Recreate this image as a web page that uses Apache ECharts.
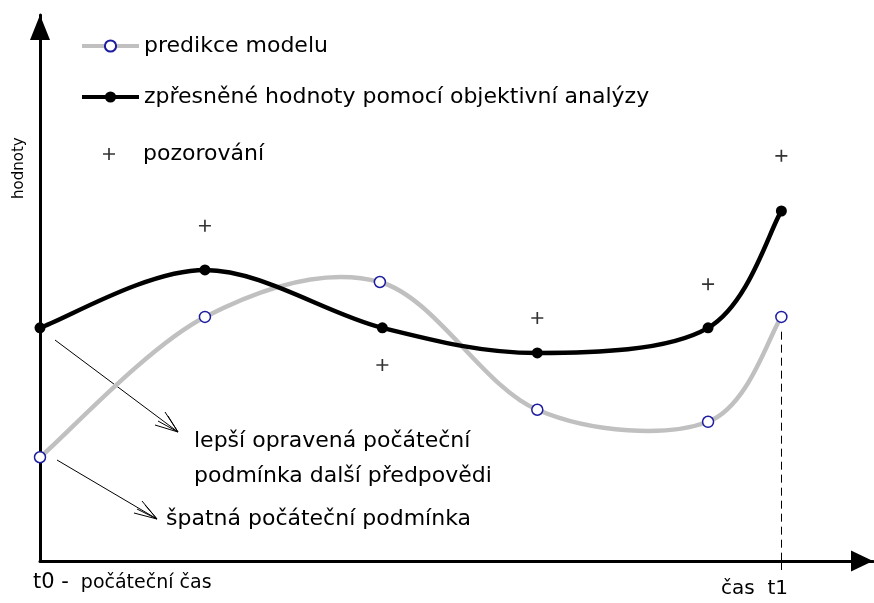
<!DOCTYPE html>
<html>
<head>
    <meta charset="UTF-8">
    <title>predikce a analýza</title>
    <script src="https://cdn.jsdelivr.net/npm/echarts@6/dist/echarts.min.js"></script>
    <style>
        body { margin: 0; padding: 0; background: #fff; }
        #main { width: 874px; height: 603px; }
    </style>
</head>
<body>
<div id="main"></div>
<script>
    // čas (arbitrary units, t0 = 0, t1 ~ 89)
    var casPredikce = [0, 19.8, 40.8, 59.7, 80.2, 89.0];
    var predikce = [19.0, 44.7, 51.1, 27.7, 25.5, 44.7];
    var casAnalyza = [0, 19.8, 41.1, 59.7, 80.2, 89.0];
    var analyza = [42.7, 53.3, 42.7, 38.1, 42.7, 64.1];
    var casPozorovani = [19.8, 41.1, 59.7, 80.2, 89.0];
    var pozorovani = [61.4, 35.9, 44.5, 50.7, 74.2];
    var t1 = 89.0;

    var FONT = '"DejaVu Sans", sans-serif';
    var plus = 'path://M4.3,0H5.7V4.3H10V5.7H5.7V10H4.3V5.7H0V4.3H4.3Z';

    function pairs(xs, ys) {
        return xs.map(function (x, i) { return [x, ys[i]]; });
    }

    // cardinal spline through the points, one bezier segment per item
    function splineItem(xs, ys, color, width) {
        return function (params, api) {
            var i = params.dataIndex;
            if (i >= xs.length - 1) return null;
            var n = xs.length;
            var p = function (k) {
                k = Math.max(0, Math.min(n - 1, k));
                return api.coord([xs[k], ys[k]]);
            };
            var p0 = p(i - 1), p1 = p(i), p2 = p(i + 1), p3 = p(i + 2);
            return {
                type: 'bezierCurve',
                shape: {
                    x1: p1[0], y1: p1[1], x2: p2[0], y2: p2[1],
                    cpx1: p1[0] + (p2[0] - p0[0]) / 6, cpy1: p1[1] + (p2[1] - p0[1]) / 6,
                    cpx2: p2[0] - (p3[0] - p1[0]) / 6, cpy2: p2[1] - (p3[1] - p1[1]) / 6
                },
                style: {stroke: color, lineWidth: width, fill: null, lineCap: 'round'}
            };
        };
    }

    var chart = echarts.init(document.getElementById('main'), null, {renderer: 'canvas'});

    var legendBase = {
        orient: 'vertical',
        left: 75,
        itemWidth: 57,
        itemHeight: 14,
        selectedMode: false,
        lineStyle: {width: 4, opacity: 1},
        textStyle: {fontFamily: FONT, fontSize: 22, color: '#000'}
    };

    chart.setOption({
        animation: false,
        grid: {left: 40, right: 1, top: 15, bottom: 42},
        legend: [
            Object.assign({}, legendBase, {top: 30, data: ['predikce modelu']}),
            Object.assign({}, legendBase, {top: 81, data: ['zpřesněné hodnoty pomocí objektivní analýzy']}),
            Object.assign({}, legendBase, {top: 138, left: 98, itemWidth: 12, itemHeight: 12,
                textStyle: Object.assign({}, legendBase.textStyle, {padding: [0, 0, 0, 23]}),
                data: ['pozorování']})
        ],
        xAxis: {
            type: 'value', min: 0, max: 100,
            splitLine: {show: false},
            axisLabel: {show: false},
            axisTick: {show: true, customValues: [t1], length: 9, inside: false,
                lineStyle: {color: '#000', width: 1}},
            axisLine: {lineStyle: {color: '#000', width: 3},
                symbol: ['none', 'triangle'], symbolSize: [21, 22], symbolOffset: [0, -11]}
        },
        yAxis: {
            type: 'value', min: 0, max: 100,
            splitLine: {show: false},
            axisLabel: {show: false},
            axisTick: {show: false},
            axisLine: {lineStyle: {color: '#000', width: 3},
                symbol: ['none', 'triangle'], symbolSize: [20, 25], symbolOffset: [0, -12.5]}
        },
        graphic: [
            {type: 'text', x: 27, y: 199, rotation: Math.PI / 2,
                style: {text: 'hodnoty', fontSize: 15, fontFamily: FONT, fill: '#000',
                    align: 'left', verticalAlign: 'bottom'}},
            {type: 'text', x: 33, y: 583,
                style: {text: '{a|t0 -}{s| }{b|počáteční čas}', verticalAlign: 'middle',
                    rich: {a: {fontSize: 21, fontFamily: FONT, fill: '#000'},
                        s: {width: 12},
                        b: {fontSize: 19, fontFamily: FONT, fill: '#000'}}}},
            {type: 'text', x: 721, y: 589,
                style: {text: 'čas  t1', fontSize: 20, fontFamily: FONT, fill: '#000',
                    verticalAlign: 'middle'}},
            {type: 'text', x: 194, y: 441,
                style: {text: 'lepší opravená počáteční', fontSize: 22, fontFamily: FONT,
                    fill: '#000', verticalAlign: 'middle'}},
            {type: 'text', x: 194, y: 476,
                style: {text: 'podmínka další předpovědi', fontSize: 22, fontFamily: FONT,
                    fill: '#000', verticalAlign: 'middle'}},
            {type: 'text', x: 166, y: 519,
                style: {text: 'špatná počáteční podmínka', fontSize: 22, fontFamily: FONT,
                    fill: '#000', verticalAlign: 'middle'}},
            {type: 'line', shape: {x1: 55, y1: 340, x2: 178, y2: 432},
                style: {stroke: '#000', lineWidth: 1}},
            {type: 'polyline', shape: {points: [[155, 425], [178, 432], [165, 412]]},
                style: {stroke: '#000', lineWidth: 1, fill: null}},
            {type: 'polyline', shape: {points: [[158, 421], [178, 432], [168, 416]]},
                style: {stroke: '#000', lineWidth: 1, fill: null}},
            {type: 'line', shape: {x1: 57, y1: 460, x2: 157, y2: 519},
                style: {stroke: '#000', lineWidth: 1}},
            {type: 'polyline', shape: {points: [[134, 513], [157, 519], [142, 501]]},
                style: {stroke: '#000', lineWidth: 1, fill: null}},
            {type: 'polyline', shape: {points: [[137, 509], [157, 519], [145, 505]]},
                style: {stroke: '#000', lineWidth: 1, fill: null}}
        ],
        series: [
            {
                type: 'custom',
                data: pairs(casPredikce, predikce),
                renderItem: splineItem(casPredikce, predikce, '#c0c0c0', 4.5),
                silent: true,
                z: 1
            },
            {
                type: 'custom',
                data: pairs(casAnalyza, analyza),
                renderItem: splineItem(casAnalyza, analyza, '#000', 4.5),
                silent: true,
                z: 2
            },
            {
                name: 'predikce modelu',
                type: 'line',
                data: pairs(casPredikce, predikce),
                symbol: 'circle', symbolSize: 11,
                lineStyle: {color: '#c0c0c0', width: 4, opacity: 0},
                itemStyle: {color: '#fff', borderColor: '#1c1ca0', borderWidth: 1.5},
                markLine: {
                    silent: true, symbol: 'none', label: {show: false},
                    lineStyle: {color: '#000', width: 1, type: [8, 5], opacity: 1},
                    data: [[{coord: [t1, 42]}, {coord: [t1, 0]}]]
                },
                z: 3
            },
            {
                name: 'zpřesněné hodnoty pomocí objektivní analýzy',
                type: 'line',
                data: pairs(casAnalyza, analyza),
                symbol: 'circle', symbolSize: 11,
                lineStyle: {color: '#000', width: 4, opacity: 0},
                itemStyle: {color: '#000'},
                z: 4
            },
            {
                name: 'pozorování',
                type: 'scatter',
                data: pairs(casPozorovani, pozorovani),
                symbol: plus, symbolSize: 12,
                itemStyle: {color: '#000'},
                z: 5
            }
        ]
    });
</script>
</body>
</html>
